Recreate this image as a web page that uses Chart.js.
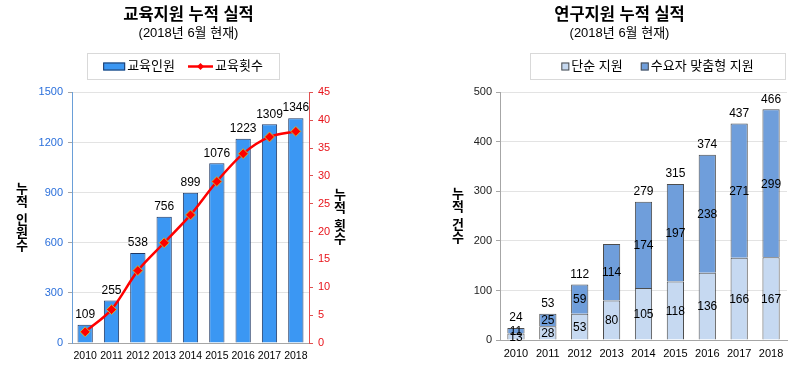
<!DOCTYPE html>
<html>
<head>
<meta charset="utf-8">
<script src="https://cdn.jsdelivr.net/npm/chart.js@4"></script>
<style>
body { margin: 0; background: #fff; width: 800px; height: 369px; position: relative; overflow: hidden; }
.box { position: absolute; top: 0; width: 400px; height: 369px; }
</style>
</head>
<body>
<div class="box" style="left:0"><canvas id="eduChart" width="400" height="369"></canvas></div>
<div class="box" style="left:400px"><canvas id="resChart" width="400" height="369"></canvas></div>
<script>
// data
const years = ['2010', '2011', '2012', '2013', '2014', '2015', '2016', '2017', '2018'];
const eduPeople = [109, 255, 538, 756, 899, 1076, 1223, 1309, 1346];
const eduCount = [2, 6, 13, 18, 23, 29, 34, 37, 38];
const simpleSupport = [13, 28, 53, 80, 105, 118, 136, 166, 167];
const customSupport = [11, 25, 59, 114, 174, 197, 238, 271, 299];
const researchTotals = [24, 53, 112, null, 279, 315, 374, 437, 466]; // 2013 total not labelled

const FONT = '"Liberation Sans", "Noto Sans CJK KR", sans-serif';

// vertical axis titles, one character per line
function makeStackedTitle(labels) {
    return {
        id: 'stackedTitle',
        afterDraw(chart) {
            const ctx = chart.ctx;
            const area = chart.chartArea;
            ctx.save();
            ctx.font = 'bold 13px ' + FONT;
            ctx.fillStyle = '#000';
            ctx.textAlign = 'center';
            ctx.textBaseline = 'middle';
            labels.forEach(l => {
                const pos = [];
                let y = 0;
                Array.from(l.text).forEach(c => {
                    if (c === ' ') { y += 5; return; }
                    pos.push([c, y]);
                    y += 13;
                });
                const span = pos[pos.length - 1][1];
                const y0 = (area.top + area.bottom) / 2 - span / 2;
                pos.forEach(p => ctx.fillText(p[0], l.x, y0 + p[1]));
            });
            ctx.restore();
        }
    };
}

// value labels on bars
function makeValueLabels(items) {
    return {
        id: 'valueLabels',
        afterDatasetsDraw(chart) {
            const ctx = chart.ctx;
            ctx.save();
            ctx.font = '12px ' + FONT;
            ctx.fillStyle = '#000';
            ctx.textAlign = 'center';
            items.forEach(it => {
                const meta = chart.getDatasetMeta(it.dataset);
                meta.data.forEach((el, i) => {
                    const v = it.values[i];
                    if (v == null) return;
                    if (it.pos === 'top') {
                        ctx.textBaseline = 'bottom';
                        ctx.fillText(v, el.x, el.y - 4);
                    } else {
                        ctx.textBaseline = 'middle';
                        ctx.fillText(v, el.x, (el.y + el.base) / 2 + 1);
                    }
                });
            });
            ctx.restore();
        }
    };
}

// framed legend
function makeBoxLegend(box, gap, items) {
    return {
        id: 'boxLegend',
        afterDraw(chart) {
            const ctx = chart.ctx;
            ctx.save();
            ctx.strokeStyle = '#d9d9d9';
            ctx.lineWidth = 1;
            ctx.strokeRect(box.x + 0.5, box.y + 0.5, box.w, box.h);
            ctx.font = '13px ' + FONT;
            ctx.textBaseline = 'middle';
            const widths = items.map(it => it.iconW + 2 + ctx.measureText(chart.data.datasets[it.dataset].label).width);
            const total = widths.reduce((a, b) => a + b, 0) + gap * (items.length - 1);
            let x = box.x + (box.w - total) / 2;
            const cy = box.y + box.h / 2 + 0.5;
            items.forEach((it, k) => {
                const ds = chart.data.datasets[it.dataset];
                if (it.icon === 'line') {
                    ctx.strokeStyle = ds.borderColor;
                    ctx.lineWidth = 2.5;
                    ctx.beginPath();
                    ctx.moveTo(x, cy);
                    ctx.lineTo(x + it.iconW, cy);
                    ctx.stroke();
                    const mx = x + it.iconW / 2;
                    ctx.fillStyle = ds.pointBackgroundColor;
                    ctx.beginPath();
                    ctx.moveTo(mx, cy - 3.5);
                    ctx.lineTo(mx + 3.5, cy);
                    ctx.lineTo(mx, cy + 3.5);
                    ctx.lineTo(mx - 3.5, cy);
                    ctx.closePath();
                    ctx.fill();
                } else {
                    ctx.fillStyle = ds.backgroundColor;
                    ctx.strokeStyle = ds.borderColor;
                    ctx.lineWidth = 1;
                    const h = it.iconH;
                    ctx.fillRect(x, cy - h / 2, it.iconW, h);
                    ctx.strokeRect(x + 0.5, cy - h / 2 + 0.5, it.iconW - 1, h - 1);
                }
                ctx.fillStyle = '#000';
                ctx.fillText(ds.label, x + it.iconW + 2, cy);
                x += widths[k] + gap;
            });
            ctx.restore();
        }
    };
}

function titleOpts(text) {
    return {
        title: { display: true, text: text, color: '#000', font: { family: FONT, size: 16.5, weight: 'bold' }, padding: { top: 6, bottom: 0 } },
        subtitle: { display: true, text: '(2018년 6월 현재)', color: '#000', font: { family: FONT, size: 13 }, padding: { top: 0, bottom: 51 } }
    };
}

const plainTick = v => String(v);

function setupEduChart() {
    const ctx = document.getElementById('eduChart').getContext('2d');
    new Chart(ctx, {
        type: 'bar',
        data: {
            labels: years,
            datasets: [{
                type: 'line',
                label: '교육횟수',
                data: eduCount,
                yAxisID: 'y1',
                borderColor: '#ff0000',
                borderWidth: 2.5,
                tension: 0.3,
                pointStyle: 'rectRot',
                pointRadius: 5,
                pointBackgroundColor: '#ff0000',
                pointBorderColor: '#c8b43c',
                pointBorderWidth: 1,
                order: 0
            }, {
                label: '교육인원',
                data: eduPeople,
                yAxisID: 'y',
                backgroundColor: '#3b97f3',
                borderColor: '#1f3864',
                borderWidth: 1,
                categoryPercentage: 1,
                barPercentage: 0.58,
                order: 1
            }]
        },
        options: {
            responsive: false,
            animation: false,
            layout: { padding: { left: 32, right: 55, bottom: 6, top: 0 } },
            plugins: Object.assign(titleOpts('교육지원 누적 실적'), {
                legend: { display: false },
                tooltip: { enabled: false }
            }),
            scales: {
                x: {
                    grid: { display: false, drawTicks: false },
                    border: { display: true, color: '#a6a6a6' },
                    ticks: { color: '#000', padding: 7, autoSkip: false, maxRotation: 0, minRotation: 0, font: { family: FONT, size: 10.5 } },
                    afterFit(s) { s.height = 20; }
                },
                y: {
                    position: 'left',
                    min: 0, max: 1500,
                    ticks: { stepSize: 300, color: '#2a6fdb', padding: 5, callback: plainTick, font: { family: FONT, size: 11 } },
                    grid: { color: '#e3e3e3', tickColor: '#a6a6a6', tickLength: 4 },
                    border: { color: '#6a9fd8' },
                    afterFit(s) { s.width = 40; }
                },
                y1: {
                    position: 'right',
                    min: 0, max: 45,
                    ticks: { stepSize: 5, color: '#e8141b', padding: 5, callback: plainTick, font: { family: FONT, size: 11 } },
                    grid: { drawOnChartArea: false, tickColor: '#e05050', tickLength: 4 },
                    border: { color: '#e05050' },
                    afterFit(s) { s.width = 36; }
                }
            }
        },
        plugins: [
            makeBoxLegend({ x: 87, y: 53, w: 192, h: 26 }, 13,
                [{ dataset: 1, icon: 'bar', iconW: 22, iconH: 8 }, { dataset: 0, icon: 'line', iconW: 25 }]),
            makeValueLabels([{ dataset: 1, pos: 'top', values: eduPeople }]),
            makeStackedTitle([{ text: '누적 인원수', x: 22 }, { text: '누적 횟수', x: 340 }])
        ]
    });
}

function setupResChart() {
    const ctx = document.getElementById('resChart').getContext('2d');
    new Chart(ctx, {
        type: 'bar',
        data: {
            labels: years,
            datasets: [{
                label: '단순 지원',
                data: simpleSupport,
                backgroundColor: '#c6d9f1',
                borderColor: '#4d4d4d',
                borderWidth: 1,
                categoryPercentage: 1,
                barPercentage: 0.54
            }, {
                label: '수요자 맞춤형 지원',
                data: customSupport,
                backgroundColor: '#6f9edb',
                borderColor: '#4d4d4d',
                borderWidth: 1,
                categoryPercentage: 1,
                barPercentage: 0.54
            }]
        },
        options: {
            responsive: false,
            animation: false,
            layout: { padding: { left: 52, right: 13, bottom: 9, top: 0 } },
            plugins: Object.assign(titleOpts('연구지원 누적 실적'), {
                legend: { display: false },
                tooltip: { enabled: false }
            }),
            scales: {
                x: {
                    stacked: true,
                    grid: { display: false, drawTicks: false },
                    border: { display: true, color: '#a6a6a6' },
                    ticks: { color: '#000', padding: 7, autoSkip: false, maxRotation: 0, minRotation: 0, font: { family: FONT, size: 11 } },
                    afterFit(s) { s.height = 20; }
                },
                y: {
                    stacked: true,
                    min: 0, max: 500,
                    ticks: { stepSize: 100, color: '#222', padding: 4, callback: plainTick, font: { family: FONT, size: 11 } },
                    grid: { color: '#e3e3e3', tickColor: '#a6a6a6', tickLength: 4 },
                    border: { color: '#a6a6a6' },
                    afterFit(s) { s.width = 48; }
                }
            }
        },
        plugins: [
            makeBoxLegend({ x: 130, y: 53, w: 255, h: 26 }, 18,
                [{ dataset: 0, icon: 'square', iconW: 8, iconH: 8 }, { dataset: 1, icon: 'square', iconW: 8, iconH: 8 }]),
            makeValueLabels([
                { dataset: 0, pos: 'mid', values: simpleSupport },
                { dataset: 1, pos: 'mid', values: customSupport },
                { dataset: 1, pos: 'top', values: researchTotals }
            ]),
            makeStackedTitle([{ text: '누적 건수', x: 58 }])
        ]
    });
}

setupEduChart();
setupResChart();
</script>
</body>
</html>
